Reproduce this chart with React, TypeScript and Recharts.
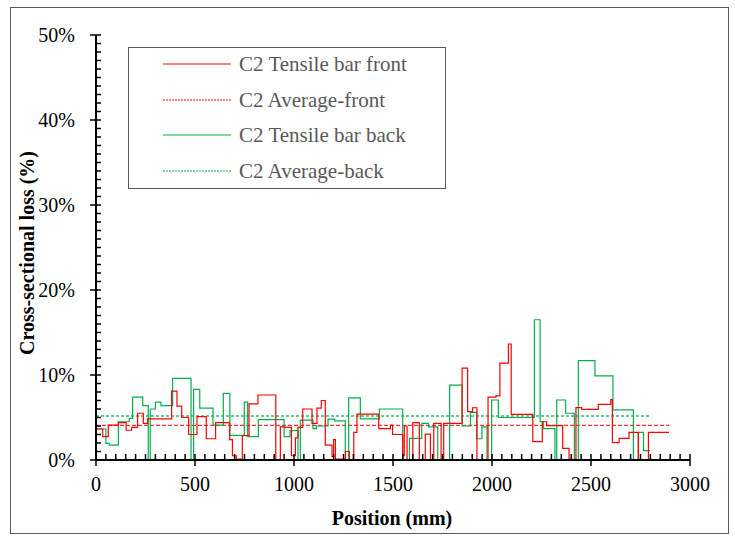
import { LineChart, Line, XAxis, YAxis } from "recharts"

// step breakpoints (mm) and loss values (%)
const FRONT_POS = [
  0, 34, 62, 113, 152, 180, 210, 239, 261, 382, 409, 433, 468, 510, 557, 604, 675, 689, 709, 739,
  773, 818, 908, 931, 953, 987, 1007, 1020, 1044, 1091, 1116, 1138, 1158, 1192, 1200, 1209, 1260,
  1280, 1302, 1318, 1428, 1487, 1498, 1549, 1557, 1571, 1600, 1633, 1663, 1689, 1706, 1743, 1756,
  1849, 1877, 1902, 1924, 1980, 2020, 2040, 2083, 2097, 2206, 2254, 2276, 2357, 2389, 2424, 2453,
  2537, 2600, 2608, 2642, 2692, 2739, 2790, 2894,
]
const FRONT_LOSS = [
  3.65, 2.75, 4.1, 4.4, 3.5, 3.85, 5.5, 4.3, 4.85, 8.1, 6.35, 5.0, 3.0, 5.1, 2.5, 4.4, 2.4, 0.5, 0.1,
  2.86, 6.6, 7.65, 0, 3.9, 3.85, 0.5, 2.6, 3.85, 6.0, 4.3, 6.1, 7.0, 1.76, 0.4, 2.4, 0.1, 1.0, 0,
  3.25, 5.4, 3.7, 4.1, 3.0, 0.5, 4.0, 0, 4.4, 0, 3.05, 0, 4.3, 0, 4.3, 10.8, 5.7, 6.15, 0, 7.4,
  7.55, 11.4, 13.65, 5.37, 2.16, 4.5, 4.04, 1.37, 0.08, 6.16, 5.96, 6.55, 7.1, 2.04, 2.55, 3.25, 0,
  3.25,
]

const BACK_POS = [
  0, 50, 67, 113, 168, 185, 236, 264, 274, 300, 328, 387, 480, 493, 524, 591, 643, 676, 749, 766,
  820, 950, 980, 1020, 1032, 1096, 1113, 1172, 1206, 1259, 1276, 1335, 1431, 1549, 1583, 1645, 1679,
  1726, 1786, 1849, 1891, 1923, 1949, 1975, 1998, 2032, 2214, 2243, 2259, 2318, 2327, 2372, 2416,
  2436, 2520, 2611, 2714, 2739, 2765, 2798,
]
const BACK_LOSS = [
  3.65, 1.96, 1.76, 4.5, 4.9, 7.4, 6.4, 0, 6.0, 6.8, 6.4, 9.6, 0, 8.3, 6.1, 4.1, 7.84, 2.9, 6.8,
  2.75, 4.75, 2.75, 3.45, 0, 4.7, 3.7, 4.0, 4.8, 4.6, 0, 7.3, 4.85, 6.0, 0, 2.55, 4.3, 3.9, 0, 8.8,
  4.0, 5.6, 2.5, 3.9, 0, 7.06, 5.0, 16.5, 4.5, 3.7, 0, 7.06, 5.5, 0, 11.7, 9.9, 5.9, 0, 3.25, 1.1,
]

const AVG_FRONT = 4.08
const AVG_BACK = 5.18

// all ticks (minor every 50 mm / 1 %), labelled every 500 mm / 10 %
const X_TICKS = Array.from({ length: 61 }, (_, i) => i * 50)
const Y_TICKS = Array.from({ length: 51 }, (_, i) => i)
const X_MAJOR_STEP = 500
const Y_MAJOR_STEP = 10

const LEGEND = [
  { label: "C2 Tensile bar front", color: "#ff0000", dash: undefined },
  { label: "C2 Average-front", color: "#ff0000", dash: "2 1" },
  { label: "C2 Tensile bar back", color: "#00b050", dash: undefined },
  { label: "C2 Average-back", color: "#00b050", dash: "2 1" },
]

const toSteps = (pos: number[], loss: number[]) =>
  pos.map((x, i) => ({ x, y: i < loss.length ? loss[i] : loss[loss.length - 1] }))

const frontData = toSteps(FRONT_POS, FRONT_LOSS)
const backData = toSteps(BACK_POS, BACK_LOSS)
const avgFrontData = [
  { x: 0, y: AVG_FRONT },
  { x: FRONT_POS[FRONT_POS.length - 1], y: AVG_FRONT },
]
const avgBackData = [
  { x: 0, y: AVG_BACK },
  { x: BACK_POS[BACK_POS.length - 1], y: AVG_BACK },
]

const FONT = "'Liberation Serif', 'Times New Roman', serif"

// major ticks point out, minor ticks point in
function XTick(props: any) {
  const { x, y, payload } = props
  const major = payload.value % X_MAJOR_STEP === 0
  return (
    <g>
      <line x1={x} x2={x} y1={major ? y + 6 : y} y2={y - 6} stroke="#000" strokeWidth={1.5} />
      {major && (
        <text x={x} y={y + 17} dy="0.71em" textAnchor="middle" fontFamily={FONT} fontSize={20} fill="#000">
          {payload.value}
        </text>
      )}
    </g>
  )
}

function YTick(props: any) {
  const { x, y, payload } = props
  const major = payload.value % Y_MAJOR_STEP === 0
  return (
    <g>
      <line x1={major ? x - 6 : x} x2={x + 5} y1={y} y2={y} stroke="#000" strokeWidth={1.5} />
      {major && (
        <text x={x - 21} y={y} dy="0.35em" textAnchor="end" fontFamily={FONT} fontSize={20} fill="#000">
          {`${payload.value}%`}
        </text>
      )}
    </g>
  )
}

export default function App() {
  return (
    <div style={{ position: "absolute", left: 0, top: 0, width: 735, height: 536, background: "#fff" }}>
      <div style={{
        position: "absolute",
        left: 10,
        top: 7,
        width: 719,
        height: 527,
        border: "1.5px solid #595959",
        boxSizing: "border-box",
      }} />

      <LineChart width={735} height={536} margin={{ top: 35, right: 45, left: 36, bottom: 46 }}>
        {/* plot frame */}
        <XAxis xAxisId="top" orientation="top" type="number" dataKey="x" domain={[0, 3000]} height={0} tick={false} axisLine={{ stroke: "#000", strokeWidth: 1 }} />
        <YAxis yAxisId="right" orientation="right" type="number" domain={[0, 50]} width={0} tick={false} axisLine={{ stroke: "#000", strokeWidth: 1 }} />
        <Line xAxisId="top" yAxisId="right" data={avgFrontData} dataKey="y" stroke="none" dot={false} legendType="none" isAnimationActive={false} />

        <Line data={avgBackData} dataKey="y" type="linear" stroke="#5fcf8a" strokeWidth={2} strokeDasharray="3 2" dot={false} isAnimationActive={false} />
        <Line data={avgFrontData} dataKey="y" type="linear" stroke="#ff0000" strokeWidth={1} strokeDasharray="4 2" dot={false} isAnimationActive={false} />
        <Line data={backData} dataKey="y" type="stepAfter" stroke="#00b050" strokeWidth={1.2} dot={false} isAnimationActive={false} />
        <Line data={frontData} dataKey="y" type="stepAfter" stroke="#ff0000" strokeWidth={1.2} dot={false} isAnimationActive={false} />

        <XAxis
          type="number"
          dataKey="x"
          domain={[0, 3000]}
          ticks={X_TICKS}
          interval={0}
          height={30}
          tickSize={0}
          tickMargin={0}
          tickLine={false}
          axisLine={{ stroke: "#000", strokeWidth: 2 }}
          tick={<XTick />}
        />
        <YAxis
          type="number"
          domain={[0, 50]}
          ticks={Y_TICKS}
          interval={0}
          width={60}
          tickSize={0}
          tickMargin={0}
          tickLine={false}
          axisLine={{ stroke: "#000", strokeWidth: 2 }}
          tick={<YTick />}
        />
      </LineChart>

      {/* Legend */}
      <div style={{
        position: "absolute",
        left: 128,
        top: 47,
        width: 318,
        height: 142,
        border: "1px solid #595959",
        boxSizing: "border-box",
        background: "#fff",
      }}>
        {LEGEND.map((item, i) => (
          <div key={item.label} style={{ position: "absolute", left: 34, top: 4 + i * 35.5, height: 24, display: "flex", alignItems: "center" }}>
            <svg width={68} height={4} style={{ display: "block" }}>
              <line x1={0} y1={2} x2={68} y2={2} stroke={item.color} strokeWidth={1} strokeDasharray={item.dash} />
            </svg>
            <span style={{ marginLeft: 8, fontFamily: FONT, fontSize: 21, color: "#595959", whiteSpace: "nowrap", lineHeight: "24px" }}>
              {item.label}
            </span>
          </div>
        ))}
      </div>

      {/* axis titles */}
      <div style={{
        position: "absolute",
        left: 27,
        top: 253,
        transform: "translate(-50%, -50%) rotate(-90deg)",
        fontFamily: FONT,
        fontSize: 20,
        fontWeight: 700,
        color: "#000",
        whiteSpace: "nowrap",
      }}>
        Cross-sectional loss (%)
      </div>
      <div style={{
        position: "absolute",
        left: 392,
        top: 518,
        transform: "translate(-50%, -50%)",
        fontFamily: FONT,
        fontSize: 20,
        fontWeight: 700,
        color: "#000",
        whiteSpace: "nowrap",
      }}>
        Position (mm)
      </div>
    </div>
  )
}
